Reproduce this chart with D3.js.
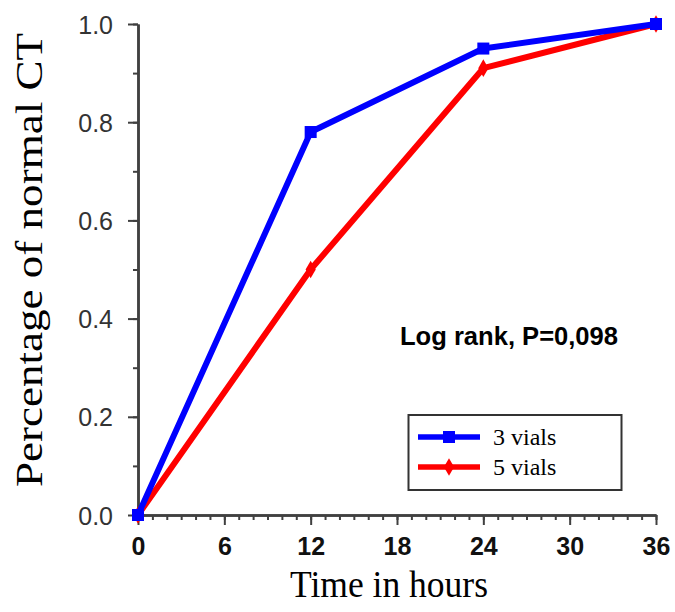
<!DOCTYPE html>
<html>
<head>
<meta charset="utf-8">
<script src="https://cdn.jsdelivr.net/npm/d3@7"></script>
<style>
  html, body { margin: 0; padding: 0; background: #fff; }
  svg { display: block; }
</style>
</head>
<body>
<svg id="chart" width="675" height="612"></svg>
<script>
// Hours after start
const hours = [0, 12, 24, 36];
// Fraction of patients with normal CT at each time point
const vials3 = [0, 0.78, 0.95, 1.0];
const vials5 = [0, 0.5, 0.91, 1.0];
const seriesNames = ["3 vials", "5 vials"];
const seriesColors = ["#0000ff", "#ff0000"];
const xTicks = [0, 6, 12, 18, 24, 30, 36];
const yTicks = [0, 0.2, 0.4, 0.6, 0.8, 1.0];
const annotation = "Log rank, P=0,098";

const svg = d3.select("#chart");
const x = d3.scaleLinear().domain([0, 36]).range([138, 656]);
const y = d3.scaleLinear().domain([0, 1]).range([515, 24]);

const axisColor = "#404040";
const sans = "Liberation Sans, Arial, sans-serif";
const serif = "Liberation Serif, Times New Roman, serif";

// X axis: major ticks every 6 h, minor ticks every hour
const xMinor = svg.append("g").attr("transform", `translate(0,${y(0)})`)
  .call(d3.axisBottom(x).tickValues(d3.range(0, 37, 1)).tickSize(5).tickSizeOuter(0).tickFormat(""));
const xMajor = svg.append("g").attr("transform", `translate(0,${y(0)})`)
  .call(d3.axisBottom(x).tickValues(xTicks).tickSize(10).tickSizeOuter(0).tickPadding(12).tickFormat(d3.format("d")));
[xMinor, xMajor].forEach(g => {
  g.select(".domain").attr("stroke", axisColor).attr("stroke-width", 2.5);
  g.selectAll(".tick line").attr("stroke", axisColor).attr("stroke-width", 2);
});
xMajor.selectAll(".tick text")
  .attr("font-family", sans).attr("font-weight", "bold")
  .attr("font-size", 25).attr("fill", "#111").attr("dy", "0.71em");

// Y axis: major ticks every 0.2, minor every 0.1
const yMinor = svg.append("g").attr("transform", `translate(${x(0)},0)`)
  .call(d3.axisLeft(y).tickValues(d3.range(0, 1.01, 0.1)).tickSize(5).tickSizeOuter(0).tickFormat(""));
const yMajor = svg.append("g").attr("transform", `translate(${x(0)},0)`)
  .call(d3.axisLeft(y).tickValues(yTicks).tickSize(10).tickSizeOuter(0).tickPadding(15).tickFormat(d3.format(".1f")));
[yMinor, yMajor].forEach(g => {
  g.select(".domain").attr("stroke", axisColor).attr("stroke-width", 2.5);
  g.selectAll(".tick line").attr("stroke", axisColor).attr("stroke-width", 2);
});
yMajor.selectAll(".tick text")
  .attr("font-family", sans)
  .attr("font-size", 25).attr("fill", "#333").attr("dy", "0.36em");

// Axis titles
svg.append("text")
  .attr("x", 389).attr("y", 597)
  .attr("text-anchor", "middle")
  .attr("font-family", serif)
  .attr("font-size", 37).attr("fill", "#000")
  .attr("textLength", 198).attr("lengthAdjust", "spacingAndGlyphs")
  .text("Time in hours");
svg.append("text")
  .attr("transform", "translate(42,260) rotate(-90)")
  .attr("text-anchor", "middle")
  .attr("font-family", serif)
  .attr("font-size", 37).attr("fill", "#000")
  .attr("textLength", 454).attr("lengthAdjust", "spacingAndGlyphs")
  .text("Percentage of normal CT");

// Series
const series = [vials3, vials5];
const line = d3.line().x((d, i) => x(hours[i])).y(d => y(d));

function marker(g, idx, cx, cy) {
  if (idx === 0) {
    g.append("rect").attr("x", cx - 6).attr("y", cy - 6).attr("width", 12).attr("height", 12)
      .attr("fill", seriesColors[idx]);
  } else {
    g.append("path")
      .attr("d", d3.symbol().type(d3.symbolDiamond).size(90)())
      .attr("transform", `translate(${cx},${cy})`)
      .attr("fill", seriesColors[idx]);
  }
}

// Red first so blue sits on top where they meet
[1, 0].forEach(idx => {
  const g = svg.append("g");
  g.append("path").datum(series[idx])
    .attr("d", line).attr("fill", "none")
    .attr("stroke", seriesColors[idx]).attr("stroke-width", 6)
    .attr("stroke-linejoin", "round");
  series[idx].forEach((v, i) => marker(g, idx, x(hours[i]), y(v)));
});

// Annotation
svg.append("text")
  .attr("x", 400).attr("y", 345)
  .attr("font-family", sans)
  .attr("font-weight", "bold").attr("font-size", 25).attr("fill", "#000")
  .attr("textLength", 218).attr("lengthAdjust", "spacingAndGlyphs")
  .text(annotation);

// Legend
const lg = svg.append("g");
lg.append("rect").attr("x", 408.5).attr("y", 415).attr("width", 213).attr("height", 75)
  .attr("fill", "#fff").attr("stroke", "#333").attr("stroke-width", 2);
seriesNames.forEach((name, idx) => {
  const ly = 437 + idx * 30;
  lg.append("line").attr("x1", 418).attr("x2", 480).attr("y1", ly).attr("y2", ly)
    .attr("stroke", seriesColors[idx]).attr("stroke-width", 5.5);
  marker(lg, idx, 449, ly);
  lg.append("text").attr("x", 493).attr("y", ly + 8)
    .attr("font-family", serif)
    .attr("font-size", 24).attr("fill", "#000")
    .text(name);
});
</script>
</body>
</html>
